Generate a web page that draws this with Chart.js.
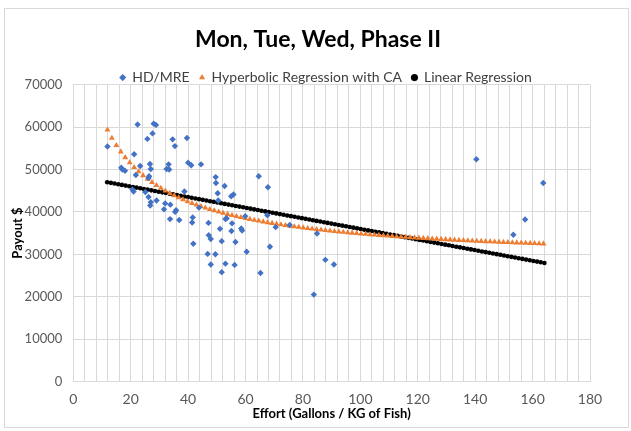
<!DOCTYPE html>
<html>
<head>
<meta charset="utf-8">
<title>Mon, Tue, Wed, Phase II</title>
<script src="https://cdn.jsdelivr.net/npm/chart.js@4"></script>
<style>
  html, body { margin: 0; padding: 0; background: #fff; }
  #wrap { position: relative; width: 631px; height: 431px; }
  #frame { position: absolute; left: 4px; top: 8px; width: 623px; height: 418px; border: 1px solid #d9d9d9; }
  #payout { position: absolute; left: 0; top: 0; }
</style>
</head>
<body>
<div id="wrap">
  <div id="frame"></div>
  <canvas id="payout" width="631" height="431"></canvas>
</div>
<script>
// HD/MRE observations: effort vs payout
const blueX = [11.9, 22.4, 28.0, 28.8, 27.6, 25.8, 21.2, 16.7, 17.1, 18.0,
  23.3, 26.7, 27.0, 26.4, 26.2, 21.8, 20.6, 21.0, 25.1, 26.2,
  27.0, 26.8, 29.0, 32.0, 33.8, 31.6, 35.8, 35.5, 33.7, 36.9,
  38.7, 34.6, 35.4, 39.6, 40.0, 41.1, 44.5, 33.2, 32.5, 33.4,
  41.6, 41.4, 41.8, 43.8, 47.1, 47.2, 47.9, 46.8, 49.5, 47.9,
  49.6, 49.7, 52.7, 50.3, 50.5, 55.0, 55.8, 53.0, 53.4, 51.1,
  51.7, 55.3, 55.1, 58.5, 58.8, 56.5, 53.0, 51.7, 56.2, 60.4,
  64.6, 65.2, 67.8, 67.6, 70.5, 68.5, 75.4, 84.9, 87.8, 90.8,
  83.8, 140.4, 163.7, 157.4, 153.3, 59.9];
const blueY = [55400, 60600, 60800, 60500, 58500, 57200, 53600, 50400, 50000, 49700,
  50800, 51300, 50100, 48400, 48000, 48700, 45300, 44800, 44700, 43500,
  42300, 41500, 42700, 42000, 41700, 40600, 40400, 40000, 38300, 38100,
  44800, 57100, 55500, 57400, 51600, 51000, 51200, 51200, 50100, 50000,
  38700, 37500, 32500, 41000, 37400, 34500, 33600, 30100, 30000, 27600,
  48200, 46800, 46100, 44400, 42700, 43700, 44100, 38300, 38500, 36000,
  33100, 37300, 35500, 36100, 35600, 32900, 27800, 25800, 27500, 30600,
  48400, 25600, 45800, 39200, 36400, 31800, 36900, 34900, 28700, 27600,
  20500, 52400, 46800, 38200, 34600, 39000];

// hyperbolic fit (with CA)
const hypX = [11.90, 13.45, 15.00, 16.55, 18.10, 19.65, 21.20, 22.75, 24.30, 25.85,
  27.40, 28.95, 30.50, 32.05, 33.60, 35.15, 36.70, 38.25, 39.80, 41.35,
  42.90, 44.45, 46.00, 47.55, 49.10, 50.65, 52.20, 53.75, 55.30, 56.85,
  58.40, 59.95, 61.50, 63.05, 64.60, 66.15, 67.70, 69.25, 70.80, 72.35,
  73.90, 75.45, 77.00, 78.55, 80.10, 81.65, 83.20, 84.75, 86.30, 87.85,
  89.40, 90.95, 92.50, 94.05, 95.60, 97.15, 98.70, 100.25, 101.80, 103.35,
  104.90, 106.45, 108.00, 109.55, 111.10, 112.65, 114.20, 115.75, 117.30, 118.85,
  120.40, 121.95, 123.50, 125.05, 126.60, 128.15, 129.70, 131.25, 132.80, 134.35,
  135.90, 137.45, 139.00, 140.55, 142.10, 143.65, 145.20, 146.75, 148.30, 149.85,
  151.40, 152.95, 154.50, 156.05, 157.60, 159.15, 160.70, 162.25, 163.80];
const hypY = [59320, 57390, 55690, 54180, 52820, 51600, 50500, 49490, 48580, 47740,
  46960, 46250, 45590, 44970, 44400, 43870, 43370, 42900, 42460, 42050,
  41660, 41290, 40940, 40610, 40300, 40000, 39720, 39450, 39190, 38940,
  38710, 38490, 38270, 38060, 37870, 37680, 37500, 37320, 37150, 36990,
  36830, 36680, 36540, 36400, 36260, 36130, 36000, 35880, 35760, 35640,
  35530, 35420, 35320, 35220, 35120, 35020, 34930, 34840, 34750, 34660,
  34580, 34500, 34420, 34340, 34270, 34190, 34120, 34050, 33980, 33920,
  33850, 33790, 33730, 33660, 33610, 33550, 33490, 33430, 33380, 33330,
  33280, 33220, 33170, 33130, 33080, 33030, 32980, 32940, 32900, 32850,
  32810, 32770, 32730, 32690, 32650, 32610, 32570, 32530, 32500];

// linear fit
const linX = [11.80, 13.08, 14.36, 15.64, 16.92, 18.20, 19.48, 20.76, 22.04, 23.32,
  24.60, 25.88, 27.16, 28.44, 29.72, 31.00, 32.28, 33.56, 34.84, 36.12,
  37.40, 38.68, 39.96, 41.24, 42.52, 43.80, 45.08, 46.36, 47.64, 48.92,
  50.20, 51.48, 52.76, 54.04, 55.32, 56.60, 57.88, 59.16, 60.44, 61.72,
  63.00, 64.28, 65.56, 66.84, 68.12, 69.40, 70.68, 71.96, 73.24, 74.52,
  75.80, 77.08, 78.36, 79.64, 80.92, 82.20, 83.48, 84.76, 86.04, 87.32,
  88.60, 89.88, 91.16, 92.44, 93.72, 95.00, 96.28, 97.56, 98.84, 100.12,
  101.40, 102.68, 103.96, 105.24, 106.52, 107.80, 109.08, 110.36, 111.64, 112.92,
  114.20, 115.48, 116.76, 118.04, 119.32, 120.60, 121.88, 123.16, 124.44, 125.72,
  127.00, 128.28, 129.56, 130.84, 132.12, 133.40, 134.68, 135.96, 137.24, 138.52,
  139.80, 141.08, 142.36, 143.64, 144.92, 146.20, 147.48, 148.76, 150.04, 151.32,
  152.60, 153.88, 155.16, 156.44, 157.72, 159.00, 160.28, 161.56, 162.84, 164.12];
const linY = [47000, 46840, 46680, 46520, 46360, 46200, 46040, 45880, 45720, 45560,
  45400, 45240, 45080, 44920, 44760, 44600, 44440, 44280, 44120, 43960,
  43800, 43640, 43480, 43320, 43160, 43000, 42840, 42680, 42520, 42360,
  42200, 42040, 41880, 41720, 41560, 41400, 41240, 41080, 40920, 40760,
  40600, 40440, 40280, 40120, 39960, 39800, 39640, 39480, 39320, 39160,
  39000, 38840, 38680, 38520, 38360, 38200, 38040, 37880, 37720, 37560,
  37400, 37240, 37080, 36920, 36760, 36600, 36440, 36280, 36120, 35960,
  35800, 35640, 35480, 35320, 35160, 35000, 34840, 34680, 34520, 34360,
  34200, 34040, 33880, 33720, 33560, 33400, 33240, 33080, 32920, 32760,
  32600, 32440, 32280, 32120, 31960, 31800, 31640, 31480, 31320, 31160,
  31000, 30840, 30680, 30520, 30360, 30200, 30040, 29880, 29720, 29560,
  29400, 29240, 29080, 28920, 28760, 28600, 28440, 28280, 28120, 27960];

const xLabels = [0, 20, 40, 60, 80, 100, 120, 140, 160, 180];

const toPoints = (xs, ys) => xs.map((x, i) => ({ x, y: ys[i] }));

const gridColor = '#d9d9d9';
const tickColor = '#595959';
const fontFamily = 'Lato, "Open Sans", sans-serif';

// move the legend row down onto the top gridline, and centre legend + title on the frame
const blockNudge = {
  id: 'blockNudge',
  afterLayout(chart) {
    const lg = chart.legend;
    lg.top += 10;
    lg.bottom += 10;
    lg.left += 26;
    lg.right += 26;
    const tb = chart.titleBlock;
    tb.left += 18;
    tb.right += 18;
  }
};

const data = {
  datasets: [
    {
      label: 'HD/MRE',
      data: toPoints(blueX, blueY),
      pointStyle: 'rectRot',
      pointRadius: 3.2,
      borderWidth: 0,
      backgroundColor: '#4472C4',
      borderColor: '#4472C4'
    },
    {
      label: 'Hyperbolic Regression with CA',
      data: toPoints(hypX, hypY),
      pointStyle: 'triangle',
      pointRadius: 3.4,
      borderWidth: 0,
      backgroundColor: '#ED7D31',
      borderColor: '#ED7D31'
    },
    {
      label: 'Linear Regression',
      data: toPoints(linX, linY),
      pointStyle: 'circle',
      pointRadius: 2.3,
      borderWidth: 0,
      backgroundColor: '#000000',
      borderColor: '#000000'
    }
  ]
};

const config = {
  type: 'scatter',
  data,
  plugins: [blockNudge],
  options: {
    responsive: false,
    animation: false,
    layout: { padding: { top: 20, left: 10, right: 41, bottom: 9 } },
    plugins: {
      title: {
        display: true,
        text: 'Mon, Tue, Wed, Phase II',
        color: '#000',
        font: { family: fontFamily, size: 23, weight: 'bold' },
        padding: { top: 6, bottom: -3 }
      },
      legend: {
        position: 'top',
        labels: {
          usePointStyle: true,
          boxWidth: 5,
          boxHeight: 5,
          padding: 10,
          color: '#404040',
          font: { family: fontFamily, size: 14 }
        }
      },
      tooltip: { enabled: false }
    },
    scales: {
      x: {
        type: 'linear',
        min: 0,
        max: 180,
        border: { display: false },
        grid: { color: gridColor, drawTicks: false },
        ticks: {
          stepSize: 4,
          maxTicksLimit: 60,
          autoSkip: false,
          maxRotation: 0,
          minRotation: 0,
          padding: 9,
          color: tickColor,
          font: { family: fontFamily, size: 14 },
          callback: (v) => xLabels.includes(v) ? String(v) : ''
        },
        title: {
          display: true,
          text: 'Effort (Gallons / KG of Fish)',
          color: '#000',
          font: { family: fontFamily, size: 13, weight: 'bold' },
          padding: { top: -10, bottom: 0 }
        }
      },
      y: {
        min: 0,
        max: 70000,
        border: { display: false },
        grid: { color: gridColor, drawTicks: false },
        ticks: {
          stepSize: 10000,
          padding: 11,
          color: tickColor,
          font: { family: fontFamily, size: 13 },
          callback: (v) => String(v)
        },
        title: {
          display: true,
          text: 'Payout $',
          color: '#000',
          font: { family: fontFamily, size: 13, weight: 'bold' },
          padding: { top: 0, bottom: -12 }
        }
      }
    }
  }
};

const canvas = document.getElementById('payout');
const payoutChart = new Chart(canvas, config);
</script>
</body>
</html>
